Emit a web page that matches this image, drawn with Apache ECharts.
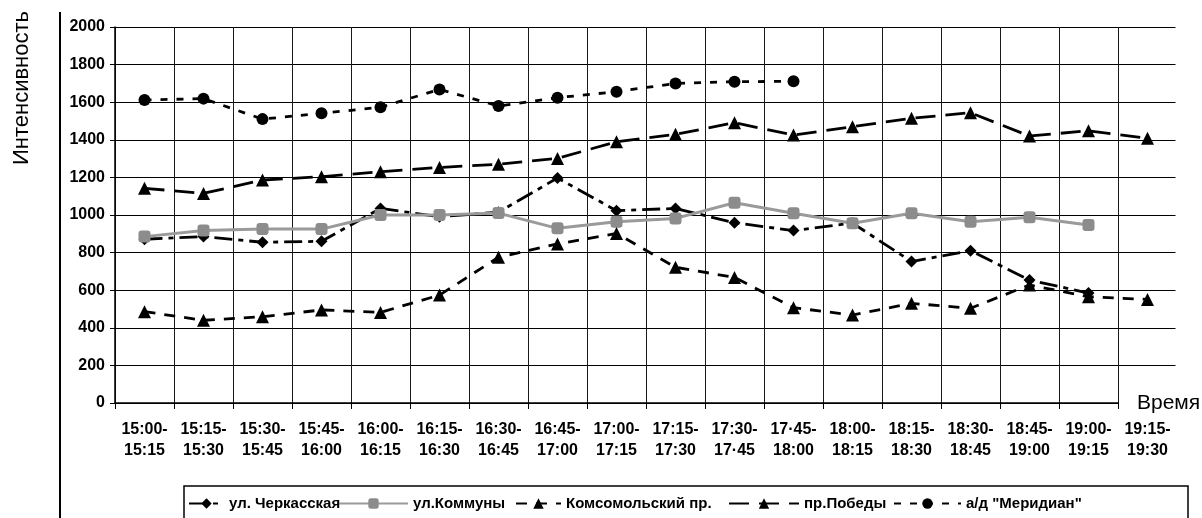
<!DOCTYPE html>
<html>
<head>
<meta charset="utf-8">
<script src="https://cdn.jsdelivr.net/npm/echarts@6/dist/echarts.min.js"></script>
<style>
  html, body { margin: 0; padding: 0; background: #fff; }
  #chart { width: 1202px; height: 518px; }
</style>
</head>
<body>
<div id="chart"></div>
<script>
// Интервалы учёта (15 минут)
const categories = [
  '15:00-\n15:15', '15:15-\n15:30', '15:30-\n15:45', '15:45-\n16:00',
  '16:00-\n16:15', '16:15-\n16:30', '16:30-\n16:45', '16:45-\n17:00',
  '17:00-\n17:15', '17:15-\n17:30', '17:30-\n17·45', '17·45-\n18:00',
  '18:00-\n18:15', '18:15-\n18:30', '18:30-\n18:45', '18:45-\n19:00',
  '19:00-\n19:15', '19:15-\n19:30'
];

// Интенсивность движения по пунктам учёта
const cherkasskaya = [871, 885, 855, 860, 1035, 991, 1015, 1197, 1023, 1035, 959, 917, 957, 752, 810, 654, 585, null];
const kommuny      = [885, 917, 925, 925, 1000, 1000, 1010, 929, 964, 982, 1065, 1009, 956, 1009, 964, 988, 947, null];
const komsomolsky  = [486, 440, 459, 495, 482, 574, 775, 846, 902, 722, 668, 507, 468, 530, 504, 628, 565, 551];
const pobedy       = [1142, 1115, 1186, 1204, 1230, 1253, 1270, 1301, 1390, 1429, 1491, 1425, 1470, 1514, 1544, 1420, 1448, 1408];
const meridian     = [1612, 1619, 1510, 1541, 1573, 1668, 1580, 1624, 1656, 1700, 1709, 1711, null, null, null, null, null, null];

const yTicks = { min: 0, max: 2000, interval: 200 };

const FONT = "'Liberation Sans', Arial, sans-serif";

const names = ['ул. Черкасская', 'ул.Коммуны', 'Комсомольский пр.', 'пр.Победы', 'а/д "Меридиан"'];

const chart = echarts.init(document.getElementById('chart'));

function legendItem(name, left, width) {
  return {
    data: [name],
    left: left,
    top: 496,
    itemWidth: width,
    itemHeight: 13,
    itemGap: 0,
    padding: 0,
    selectedMode: false,
    textStyle: { fontFamily: FONT, fontSize: 15, fontWeight: 'bold', color: '#000', padding: [0, 0, 0, 0] }
  };
}

chart.setOption({
  animation: false,
  backgroundColor: '#fff',
  textStyle: { fontFamily: FONT },
  grid: { left: 115, right: 25, top: 27, bottom: 115, containLabel: false, outerBoundsMode: 'none' },
  legend: [
    legendItem(names[0], 188, 35),
    legendItem(names[1], 338, 69),
    legendItem(names[2], 515, 45),
    legendItem(names[3], 728, 70),
    legendItem(names[4], 893, 67)
  ],
  xAxis: {
    type: 'category',
    data: categories,
    boundaryGap: true,
    axisLine: { show: true, lineStyle: { color: '#000', width: 1.5 } },
    axisTick: { show: true, length: 6, lineStyle: { color: '#000' } },
    axisLabel: { fontFamily: FONT, fontSize: 16, fontWeight: 'bold', color: '#000', lineHeight: 21, margin: 16, interval: 0 },
    splitLine: { show: true, lineStyle: { color: '#1a1a1a', width: 1 } }
  },
  yAxis: {
    type: 'value',
    min: yTicks.min,
    max: yTicks.max,
    interval: yTicks.interval,
    axisLine: { show: true, lineStyle: { color: '#000', width: 1.5 } },
    axisTick: { show: true, length: 5, lineStyle: { color: '#000' } },
    axisLabel: { fontFamily: FONT, fontSize: 16, fontWeight: 'bold', color: '#000', margin: 10, formatter: v => String(v) },
    splitLine: { show: true, lineStyle: { color: '#000', width: 1.2 } }
  },
  series: [
    {
      name: names[0], type: 'line', data: cherkasskaya,
      symbol: 'diamond', symbolSize: 12,
      itemStyle: { color: '#000' },
      lineStyle: { color: '#000', width: 2.8, type: [18, 6, 5, 6] }
    },
    {
      name: names[1], type: 'line', data: kommuny,
      symbol: 'roundRect', symbolSize: 12,
      itemStyle: { color: '#8c8c8c' },
      lineStyle: { color: '#9a9a9a', width: 3, type: 'solid' }
    },
    {
      name: names[2], type: 'line', data: komsomolsky,
      symbol: 'triangle', symbolSize: 13,
      itemStyle: { color: '#000' },
      lineStyle: { color: '#000', width: 2.8, type: [11, 9] }
    },
    {
      name: names[3], type: 'line', data: pobedy,
      symbol: 'triangle', symbolSize: 13,
      itemStyle: { color: '#000' },
      lineStyle: { color: '#000', width: 2.8, type: [20, 10] }
    },
    {
      name: names[4], type: 'line', data: meridian,
      symbol: 'circle', symbolSize: 12,
      itemStyle: { color: '#000' },
      lineStyle: { color: '#000', width: 2.8, type: [7, 9] }
    }
  ],
  graphic: [
    // левая рамка области диаграммы
    {
      type: 'line', silent: true,
      shape: { x1: 60, y1: 12, x2: 60, y2: 518 },
      style: { stroke: '#000', lineWidth: 2 }
    },
    // правый край области построения без вертикальной линии
    {
      type: 'line', silent: true, z: 50,
      shape: { x1: 1177, y1: 20, x2: 1177, y2: 402 },
      style: { stroke: '#fff', lineWidth: 3 }
    },
    // подпись оси X
    {
      type: 'text', silent: true, z: 60,
      x: 1119, y: 403,
      style: {
        text: 'Время', fontFamily: FONT, fontSize: 21, fill: '#000',
        align: 'left', verticalAlign: 'middle',
        backgroundColor: '#fff', padding: [2, 4, 0, 18]
      }
    },
    // подпись оси Y
    {
      type: 'text', silent: true,
      x: 22, y: 88, rotation: Math.PI / 2,
      style: {
        text: 'Интенсивность', fontFamily: FONT, fontSize: 22, fill: '#000',
        align: 'center', verticalAlign: 'middle'
      }
    },
    // рамка легенды
    {
      type: 'rect', silent: true, z: -1,
      shape: { x: 184, y: 486, width: 1004, height: 40 },
      style: { fill: 'none', stroke: '#000', lineWidth: 1.5 }
    }
  ]
});
</script>
</body>
</html>
